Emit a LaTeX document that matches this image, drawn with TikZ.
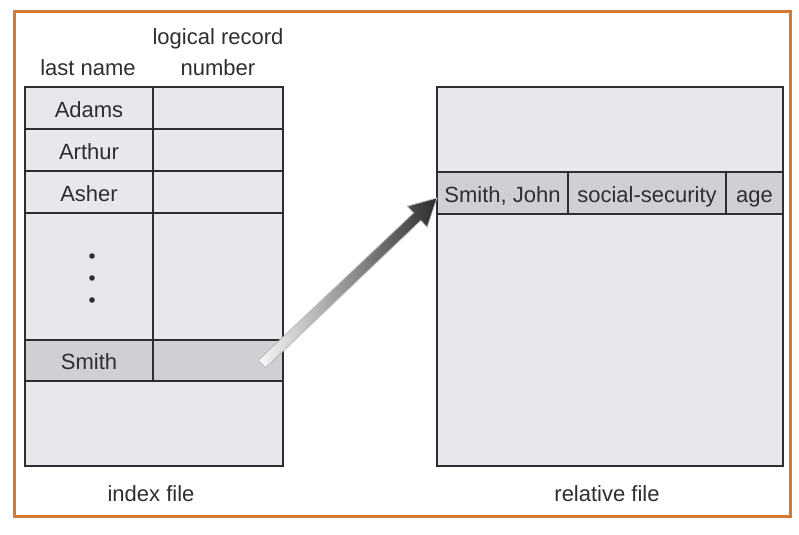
\documentclass[tikz,border=0pt]{standalone}
\usepackage{fontspec}
\setmainfont{Liberation Sans}

\definecolor{cframe}{HTML}{D9772E}
\definecolor{cfill}{HTML}{E8E8EC}
\definecolor{chit}{HTML}{D2CFD4}
\definecolor{cline}{HTML}{2E2E30}

\begin{document}
\begin{tikzpicture}[x=0.5pt,y=-0.5pt,font=\fontsize{11}{15.5}\selectfont,
  cell/.style={rectangle,draw=cline,fill=cfill,line width=1pt,inner sep=0pt,
               minimum height=21pt,text=cline,text height=10.6pt,text depth=1.2pt},
  hit/.style={cell,fill=chit},
  label/.style={text=cline,align=center,inner sep=0pt},
]
  \useasboundingbox (0,0) rectangle (799,535);
  \draw[cframe,line width=1.5pt] (14,12) rectangle (790,516);

  % index file
  \node[cell,minimum width=129pt,minimum height=189.5pt] (index) at (154,276.5) {};
  \node[cell,minimum width=64pt]  (adams)  at (89,108) {Adams};
  \node[cell,minimum width=65pt]  (adamsn) at (218,108) {};
  \node[cell,minimum width=64pt]  (arthur) at (89,150) {Arthur};
  \node[cell,minimum width=65pt]  (arthurn) at (218,150) {};
  \node[cell,minimum width=64pt]  (asher)  at (89,192) {Asher};
  \node[cell,minimum width=65pt]  (ashern) at (218,192) {};
  \node[cell,minimum width=64pt,minimum height=63.5pt] (gap)  at (89,276.5) {};
  \node[cell,minimum width=65pt,minimum height=63.5pt] (gapn) at (218,276.5) {};
  \node[hit,minimum width=64pt,minimum height=20.5pt]  (smith)  at (89,360.5) {Smith};
  \node[hit,minimum width=65pt,minimum height=20.5pt]  (smithn) at (218,360.5) {};
  \foreach \y in {256,278,300}
    \fill[cline] (92,\y) circle (1.4pt);

  \node[label] (lname) at (88,68) {last name};
  \node[label] (lnum)  at (218,52.5) {logical record\\number};
  \node[label] (icap)  at (151,494) {index file};

  % relative file
  \node[cell,minimum width=173pt,minimum height=189.5pt] (rel) at (610,276.5) {};
  \node[hit,minimum width=65.5pt] (rname) at (502.5,193) {Smith, John};
  \node[hit,minimum width=79pt]   (rssn)  at (647,193) {social-security};
  \node[hit,minimum width=28.5pt] (rage)  at (754.5,193) {age};
  \node[label] (rcap) at (607,494) {relative file};

  % pointer from smithn to rname
  \coordinate (tail) at (262,364);
  \coordinate (tip) at (437,198);
  \begin{scope}[shift={(tail)},rotate=43.5,x=1pt,y=1pt]
    \shade[left color=gray!5,right color=gray!35!black,draw=gray!55,line width=0.4pt]
      (0,-2.6) -- (107,-2.6) -- (107,-7.2) -- (120.6,0) -- (107,7.2)
      -- (107,2.6) -- (0,2.6) -- cycle;
  \end{scope}
\end{tikzpicture}
\end{document}
